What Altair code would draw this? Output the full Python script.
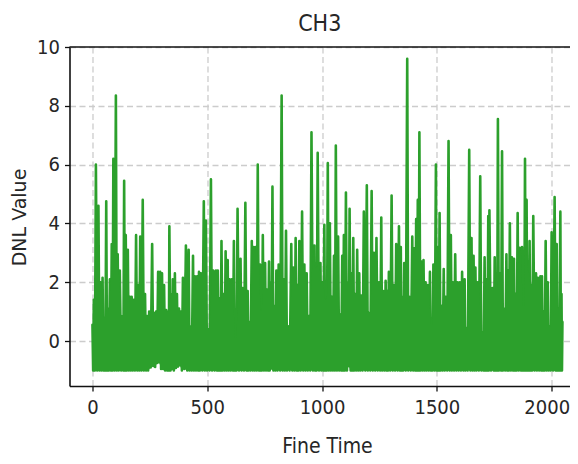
import altair as alt
import pandas as pd

TITLE = "CH3"
X_LABEL = "Fine Time"
Y_LABEL = "DNL Value"
X_TICKS = [0, 500, 1000, 1500, 2000]
Y_TICKS = [0, 2, 4, 6, 8, 10]

fine_time = [
    0, 6, 15, 26, 35, 44, 52, 60, 67, 76, 84, 91, 102, 110, 119, 131, 138, 145, 154, 163,
    171, 180, 190, 200, 208, 219, 229, 238, 247, 260, 269, 277, 286, 295, 303, 312, 321, 330, 335,
    345, 350, 359, 368, 377, 385, 394, 407, 419, 427, 438, 446, 456, 464, 472, 485, 494, 504, 516, 526,
    538, 546, 554, 562, 571, 580, 589, 597, 607, 616, 623, 632, 645, 654, 666,
    676, 682, 694, 702, 711, 720, 730, 734, 742, 752, 760, 769, 775, 784, 792, 801, 811, 824, 833, 843,
    852, 866, 875, 885, 894, 901, 913, 923, 933, 943, 954, 967, 972, 981, 993, 1001, 1010, 1017, 1025,
    1034, 1043, 1052, 1060, 1070, 1079, 1088, 1095, 1104, 1113, 1120, 1129, 1136, 1144, 1153, 1162, 1171, 1182, 1195,
    1204, 1216, 1226, 1237, 1248, 1258, 1266, 1277, 1284, 1291, 1303, 1313, 1323, 1335, 1343, 1349, 1358, 1371, 1380,
    1393, 1401, 1410, 1417, 1424, 1433, 1442, 1451, 1459, 1470, 1477, 1485, 1496, 1503, 1512, 1520, 1530, 1539, 1551,
    1561, 1570, 1580, 1590, 1600, 1610, 1621, 1628, 1641, 1651, 1660, 1668, 1677, 1689, 1699, 1708, 1716, 1724, 1729,
    1743, 1752, 1759, 1766, 1775, 1784, 1792, 1803, 1810, 1818, 1827, 1836, 1843, 1852, 1861, 1871, 1877, 1884, 1891,
    1897, 1904, 1911, 1920, 1932, 1940, 1951, 1958, 1965, 1974, 1983, 1991, 2000, 2013, 2022, 2028, 2038, 2043, 2047,
]
dnl_peak = [
    0.55, 1.4, 6.0, 4.6, 2.0, 2.15, 0.8, 4.75, 1.1, 2.1, 3.3, 6.2, 8.35, 2.95, 2.4, 0.85, 5.45, 3.6, 3.1, 1.5,
    1.5, 1.4, 3.6, 1.9, 3.55, 4.8, 1.6, 0.85, 1.0, 3.3, 0.95, 1.0, 2.35, 2.35, 2.3, 1.9, 1.05, 1.0, 3.9,
    1.6, 2.1, 2.3, 1.6, 1.1, 1.0, 2.15, 3.25, 3.1, 0.5, 2.9, 2.2, 2.2, 2.35, 2.3, 4.75, 4.1, 0.4, 5.5, 2.4,
    2.4, 2.4, 1.45, 3.4, 1.6, 3.05, 2.75, 2.1, 2.1, 3.4, 0.1, 4.5, 2.8, 1.8, 4.7,
    1.7, 0.65, 3.4, 3.2, 3.2, 6.0, 2.6, 1.05, 3.6, 2.65, 1.75, 2.7, 2.0, 5.25, 1.2, 2.4, 2.6, 8.35, 2.1, 3.75,
    0.5, 3.3, 2.5, 3.5, 1.9, 3.4, 4.4, 2.6, 2.3, 0.85, 7.1, 3.25, 2.5, 6.4, 2.65, 2.0, 3.95, 1.4, 6.05,
    4.0, 1.5, 2.9, 6.65, 3.55, 0.9, 2.9, 3.6, 5.05, 2.0, 4.5, 2.3, 3.5, 1.6, 3.1, 2.3, 1.55, 4.4, 5.3,
    0.95, 5.1, 3.0, 3.5, 2.0, 4.2, 1.7, 2.05, 1.7, 2.35, 4.95, 1.9, 3.3, 3.9, 3.2, 1.5, 2.65, 9.6, 1.5,
    3.55, 3.15, 4.15, 4.8, 7.1, 2.7, 2.75, 2.0, 1.9, 2.35, 0.55, 2.6, 6.0, 3.2, 4.35, 1.2, 2.45, 1.5, 6.8,
    3.6, 2.0, 2.95, 2.0, 2.0, 2.35, 2.1, 0.45, 6.5, 3.5, 2.9, 2.5, 2.0, 5.6, 0.3, 2.85, 2.1, 4.25, 4.45,
    1.8, 2.85, 1.8, 7.55, 2.3, 6.45, 1.1, 2.95, 2.4, 4.0, 2.85, 2.8, 1.6, 4.35, 3.17, 3.2, 1.2, 6.2, 4.8,
    2.4, 3.4, 1.9, 4.25, 2.3, 2.15, 2.2, 2.2, 1.0, 3.4, 2.0, 0.5, 3.7, 4.9, 3.3, 1.1, 4.4, 1.6, 0.65,
]
# Places where the lower edge of the band lifts off -1
lift_ft = [250, 260, 269, 277, 286, 295, 303, 345, 360, 375, 381, 395, 405, 778, 1117]
lift_val = [-0.9, -0.95, -0.85, -0.88, -0.75, -0.72, -0.95, -0.95, -0.92, -0.87, -0.82, -0.9, -0.95, -0.93, -0.85]
BASE = -1.0

rows = []
body = []
order = 0
for i, (ft, v) in enumerate(zip(fine_time, dnl_peak)):
    rows.append({"ft": ft, "v": v, "o": order})
    order += 1
    if i + 1 < len(fine_time):
        mid = (ft + fine_time[i + 1]) / 2
        low = BASE
        for lf, lv in zip(lift_ft, lift_val):
            if abs(lf - mid) <= 4.5:
                low = lv
        rows.append({"ft": mid, "v": low, "o": order})
        order += 1
        body.append({"ft": mid, "top": min(v, dnl_peak[i + 1]), "low": low})
df = pd.DataFrame(rows)
body_df = pd.DataFrame(body)

FONT = "DejaVu Sans Condensed, Roboto, sans-serif"
INK = "#262626"
GREEN = "#2ca02c"
Y_DOMAIN = [-1.53, 10]

x = alt.X(
    "ft:Q",
    scale=alt.Scale(domain=[-100, 2080], nice=False, zero=False),
    axis=alt.Axis(
        values=X_TICKS, title=X_LABEL, format="d",
        titleFont=FONT, titleFontSize=21, titleFontWeight="normal", titleColor=INK,
        titleX=257.5, titleY=66, titleBaseline="alphabetic", titleAnchor="middle", titleAlign="center",
        labelFont=FONT, labelFontSize=20, labelColor=INK, labelPadding=6,
        labelFlush=19, labelFlushOffset=18,
        grid=True, gridColor="#cccccc", gridDash=[6, 3.5], gridWidth=1.3,
        domainColor="#111111", domainWidth=1.6, tickColor="#111111", tickWidth=1.3, tickSize=5,
    ),
)
y = alt.Y(
    "v:Q",
    scale=alt.Scale(domain=Y_DOMAIN, nice=False, zero=False),
    axis=alt.Axis(
        values=Y_TICKS, title=Y_LABEL, format="d",
        titleFont="DejaVu Sans", titleFontSize=19, titleFontWeight="normal", titleColor=INK,
        titleX=-44.5, titleY=170, titleBaseline="alphabetic", titleAnchor="middle", titleAlign="center",
        labelFont=FONT, labelFontSize=20, labelColor=INK, labelPadding=5,
        grid=True, gridColor="#cccccc", gridDash=[6, 3.5], gridWidth=1.3,
        domainColor="#111111", domainWidth=1.6, tickColor="#111111", tickWidth=1.3, tickSize=5,
    ),
)

fill = alt.Chart(body_df).mark_area(color=GREEN, opacity=1, clip=True).encode(
    x=alt.X("ft:Q"),
    y=alt.Y("top:Q"),
    y2=alt.Y2("low:Q"),
)

line = alt.Chart(df).mark_line(
    color=GREEN, strokeWidth=2.6, strokeJoin="round", strokeCap="round", clip=True
).encode(x=x, y=y, order="o:Q")

top = alt.Chart(pd.DataFrame({"t": [10]})).mark_rule(color="#111111", strokeWidth=1.6).encode(
    y=alt.Y("t:Q")
)

chart = alt.layer(line, fill, top).properties(
    width=500.5,
    height=339,
    padding={"left": 61.5, "top": 39, "right": 0, "bottom": 70},
    autosize=alt.AutoSizeParams(type="none"),
    title=alt.TitleParams(TITLE, font=FONT, fontSize=23, fontWeight="normal", color=INK,
                          anchor="middle", offset=1),
).configure_view(stroke=None)

chart.save("out.html", embed_options={"renderer": "svg", "actions": False})
